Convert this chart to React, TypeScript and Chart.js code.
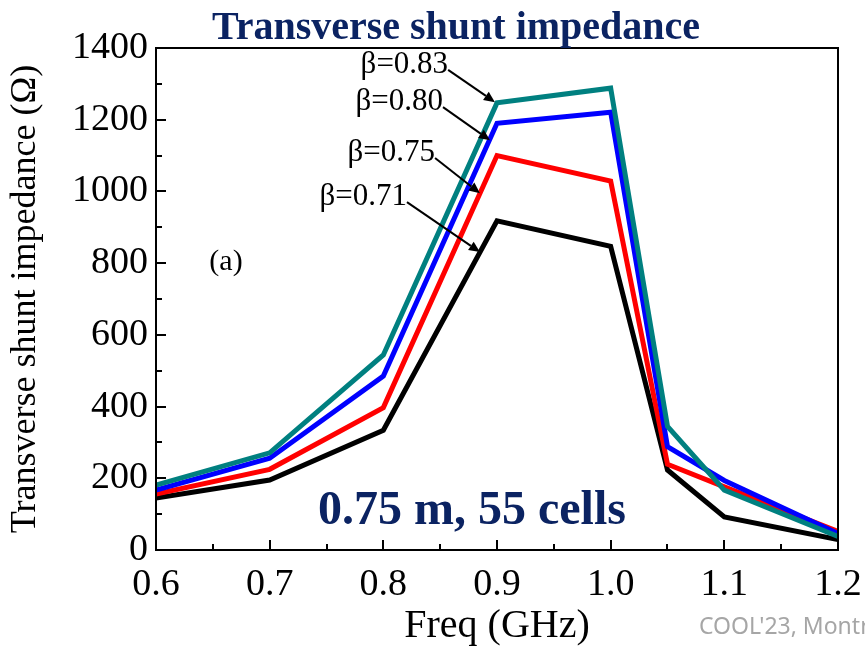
import { useEffect, useRef } from "react";
import { Chart, registerables } from "chart.js";

Chart.register(...registerables);

// Frequency points (GHz)
const freqGHz = [0.6, 0.7, 0.8, 0.9, 1.0, 1.05, 1.1, 1.2];

// Transverse shunt impedance (Ω) for each β
const beta071 = [145, 195, 334, 918, 847, 223, 92, 29];
const beta075 = [156, 225, 397, 1100, 1029, 239, 176, 52];
const beta080 = [167, 256, 485, 1190, 1221, 288, 194, 46];
const beta083 = [181, 271, 544, 1247, 1288, 345, 167, 38];

const seriesLabels = ["β=0.71", "β=0.75", "β=0.80", "β=0.83"];
const seriesColors = ["#000000", "#ff0000", "#0000ff", "#008080"];

const titleText = "Transverse shunt impedance";
const yTitle = "Transverse shunt impedance (Ω)";
const xTitle = "Freq (GHz)";
const panelTag = "(a)";
const cavityNote = "0.75 m, 55 cells";
const footerText = "COOL'23, Montréal";

const SERIF = "'Liberation Serif', 'Times New Roman', serif";
const NAVY = "#0b2362";

// Callout arrows: label end (tail) and arrow tip, both in data units
const callouts = [
  { label: seriesLabels[3], tail: [0.857, 1339], tip: [0.8982, 1249] },
  { label: seriesLabels[2], tail: [0.8525, 1235], tip: [0.8938, 1143] },
  { label: seriesLabels[1], tail: [0.8455, 1093], tip: [0.885, 995] },
  { label: seriesLabels[0], tail: [0.8208, 970], tip: [0.885, 831] },
];

const decorPlugin = {
  id: "decor",
  afterDatasetsDraw(chart: any) {
    const { ctx, chartArea: a, scales } = chart;
    const x = scales.x;
    const y = scales.y;
    ctx.save();

    // inward tick marks
    ctx.strokeStyle = "#000";
    ctx.lineWidth = 2;
    ctx.beginPath();
    x.ticks.forEach((t: any, i: number) => {
      const px = Math.round(x.getPixelForValue(t.value));
      const len = i % 2 === 0 ? 10 : 6;
      ctx.moveTo(px, a.bottom);
      ctx.lineTo(px, a.bottom - len);
    });
    y.ticks.forEach((t: any, i: number) => {
      const py = Math.round(y.getPixelForValue(t.value));
      const len = i % 2 === 0 ? 10 : 6;
      ctx.moveTo(a.left, py);
      ctx.lineTo(a.left + len, py);
    });
    ctx.stroke();

    // plot frame
    ctx.strokeRect(a.left, a.top, a.right - a.left, a.bottom - a.top);

    // callout labels with arrows
    ctx.font = `31px ${SERIF}`;
    ctx.fillStyle = "#000";
    ctx.textAlign = "right";
    ctx.textBaseline = "middle";
    callouts.forEach((c) => {
      const tx = x.getPixelForValue(c.tail[0]);
      const ty = y.getPixelForValue(c.tail[1]);
      const hx = x.getPixelForValue(c.tip[0]);
      const hy = y.getPixelForValue(c.tip[1]);
      ctx.fillText(c.label, tx, ty - 5);
      const ang = Math.atan2(hy - ty, hx - tx);
      const head = 11;
      const bx = hx - head * Math.cos(ang);
      const by = hy - head * Math.sin(ang);
      ctx.lineWidth = 2;
      ctx.beginPath();
      ctx.moveTo(tx, ty);
      ctx.lineTo(bx, by);
      ctx.stroke();
      ctx.beginPath();
      ctx.moveTo(hx, hy);
      ctx.lineTo(bx + 5 * Math.sin(ang), by - 5 * Math.cos(ang));
      ctx.lineTo(bx - 5 * Math.sin(ang), by + 5 * Math.cos(ang));
      ctx.closePath();
      ctx.fill();
    });

    // panel tag
    ctx.textAlign = "center";
    ctx.font = `30px ${SERIF}`;
    ctx.fillText(panelTag, x.getPixelForValue(0.6616), y.getPixelForValue(803));

    // cavity note
    ctx.fillStyle = NAVY;
    ctx.font = `bold 48px ${SERIF}`;
    ctx.fillText(cavityNote, x.getPixelForValue(0.878), y.getPixelForValue(107));

    // chart title
    ctx.font = `bold 40px ${SERIF}`;
    ctx.textBaseline = "alphabetic";
    ctx.fillText(titleText, 456, 39);

    // footer
    ctx.fillStyle = "#a6a6a6";
    ctx.textAlign = "left";
    ctx.font = "23px 'Noto Sans', sans-serif";
    ctx.fillText(footerText, 699, 634);

    ctx.restore();
  },
};

export default function App() {
  const ref = useRef<HTMLCanvasElement | null>(null);

  useEffect(() => {
    if (!ref.current) return;
    const series = [beta071, beta075, beta080, beta083];
    const chart = new Chart(ref.current, {
      type: "line",
      data: {
        datasets: series.map((vals, i) => ({
          label: seriesLabels[i],
          data: vals.map((v, j) => ({ x: freqGHz[j], y: v })),
          borderColor: seriesColors[i],
          backgroundColor: seriesColors[i],
          borderWidth: 5,
          pointRadius: 0,
          tension: 0,
          fill: false,
          borderJoinStyle: "miter" as const,
          order: series.length - i,
        })),
      },
      options: {
        responsive: false,
        animation: false,
        layout: { padding: { top: 48, right: 27, left: 0, bottom: 0 } },
        plugins: {
          legend: { display: false },
          tooltip: { enabled: false },
          title: { display: false },
        },
        scales: {
          x: {
            type: "linear",
            min: 0.6,
            max: 1.2,
            grid: { display: false, drawTicks: false },
            border: { display: false },
            ticks: {
              stepSize: 0.05,
              autoSkip: false,
              maxRotation: 0,
              padding: 12,
              color: "#000",
              font: { family: SERIF, size: 38 },
              callback: (v: any, i: number) => (i % 2 === 0 ? Number(v).toFixed(1) : ""),
            },
            title: {
              display: true,
              text: xTitle,
              color: "#000",
              font: { family: SERIF, size: 40 },
              padding: { top: 0, bottom: 0 },
            },
            afterFit: (s: any) => {
              s.height = 100;
              s.paddingLeft = 0;
              s.paddingRight = 0;
            },
          },
          y: {
            min: 0,
            max: 1400,
            grid: { display: false, drawTicks: false },
            border: { display: false },
            ticks: {
              stepSize: 100,
              autoSkip: false,
              padding: 8,
              color: "#000",
              font: { family: SERIF, size: 38 },
              callback: (v: any, i: number) => (i % 2 === 0 ? String(v) : ""),
            },
            title: {
              display: true,
              text: yTitle,
              color: "#000",
              font: { family: SERIF, size: 36 },
              padding: { top: 4, bottom: 0 },
            },
            afterFit: (s: any) => {
              s.width = 156;
              s.paddingTop = 0;
              s.paddingBottom = 0;
            },
          },
        },
      },
      plugins: [decorPlugin],
    });
    return () => chart.destroy();
  }, []);

  return (
    <div style={{ position: "absolute", left: 0, top: 0, width: 865, height: 650, background: "#fff" }}>
      <canvas ref={ref} width={865} height={650} style={{ display: "block" }} />
    </div>
  );
}
